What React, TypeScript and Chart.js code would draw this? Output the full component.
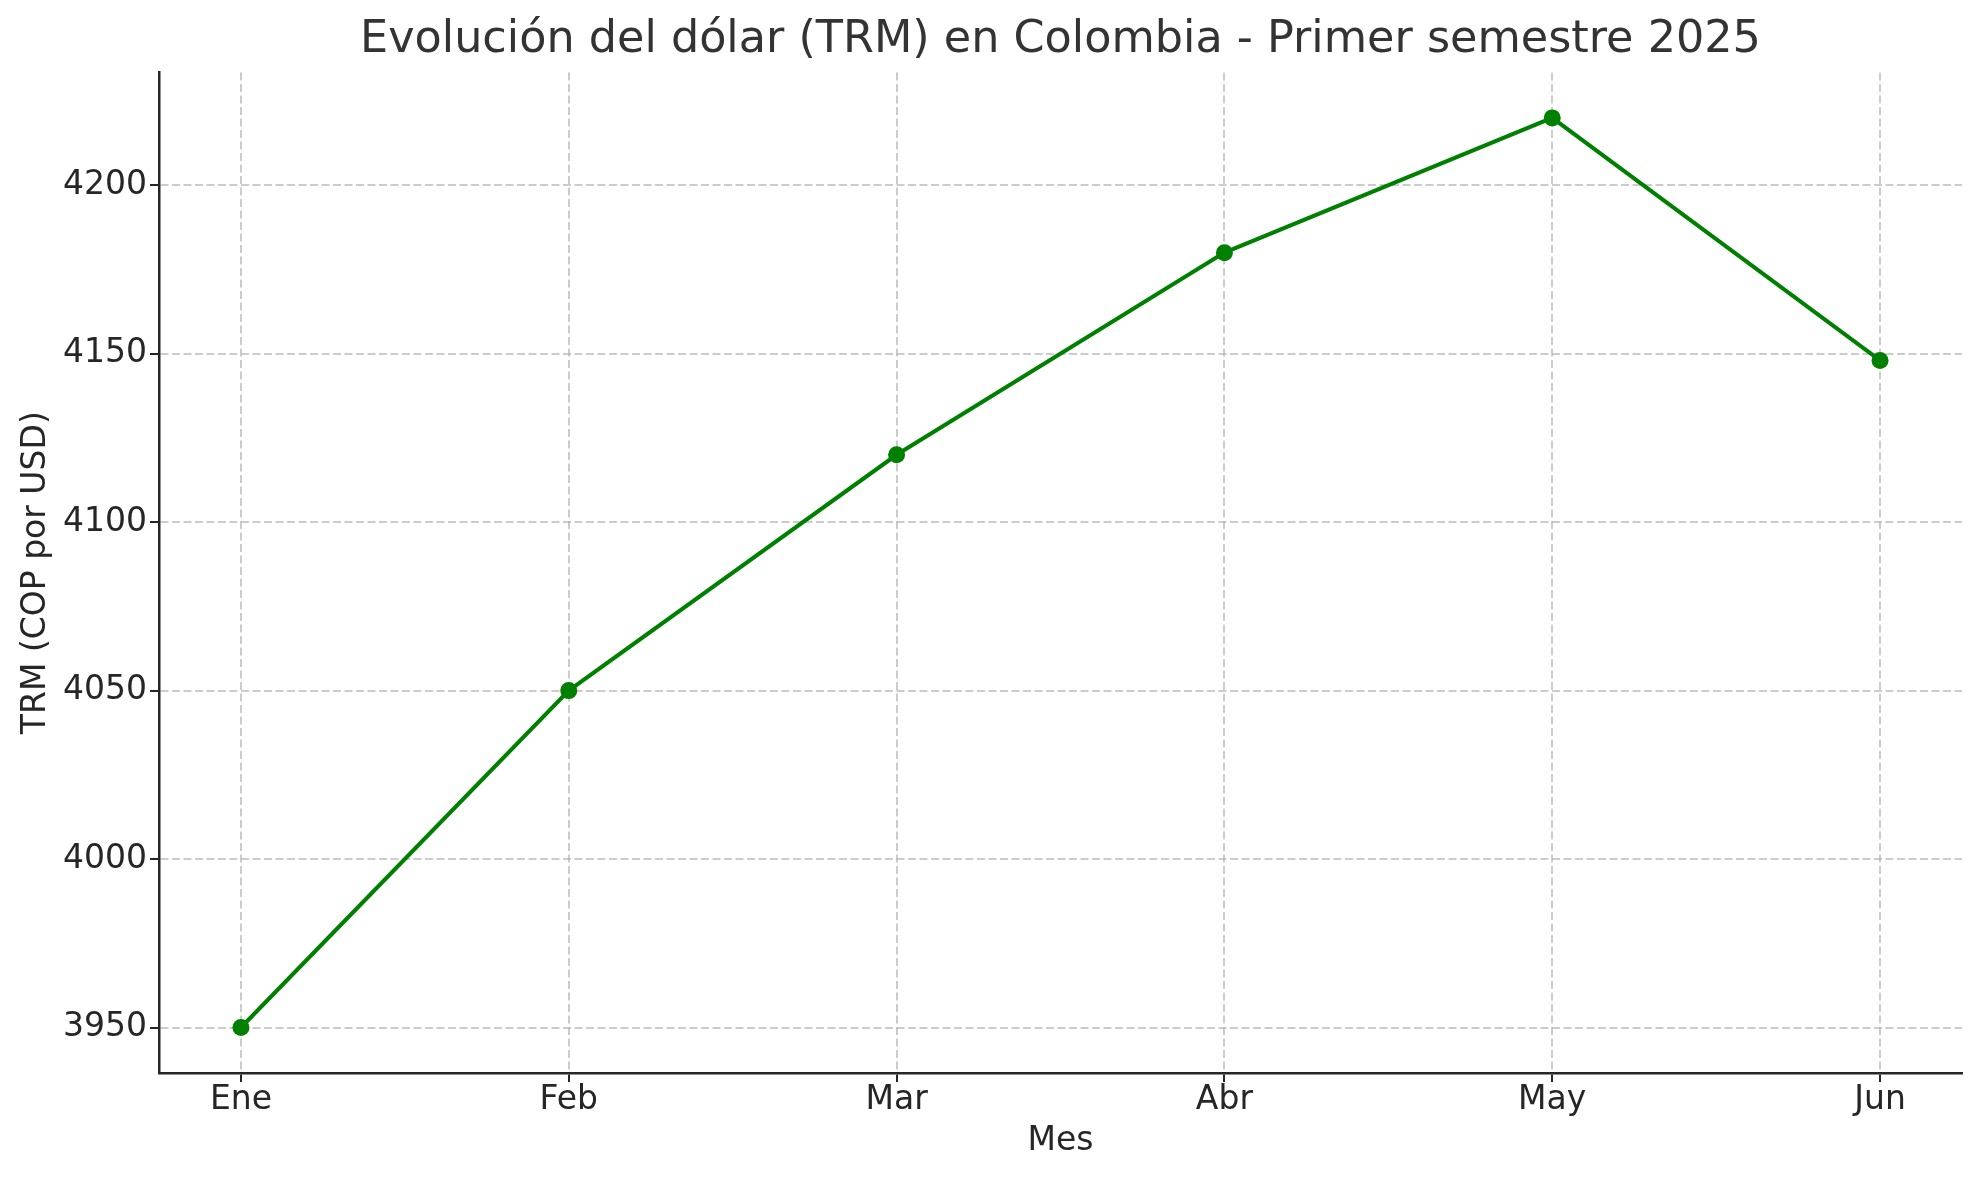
import React, { useEffect, useRef } from "react";
import { Chart, registerables } from "chart.js";

Chart.register(...registerables);

const months = ["Ene", "Feb", "Mar", "Abr", "May", "Jun"];
const trm = [3950, 4050, 4120, 4180, 4220, 4148];
const yTicks = [3950, 4000, 4050, 4100, 4150, 4200];
const titleText = "Evolución del dólar (TRM) en Colombia - Primer semestre 2025";
const xLabel = "Mes";
const yLabel = "TRM (COP por USD)";

const FONT = "'DejaVu Sans', 'Liberation Sans', sans-serif";
const AXIS = "#262626";
const GRID = "rgba(176,176,176,0.65)";

export default function App() {
  const ref = useRef<HTMLCanvasElement | null>(null);

  useEffect(() => {
    document.body.style.margin = "0";
    const canvas = ref.current;
    if (!canvas) return;
    const dMin = Math.min(...trm);
    const dMax = Math.max(...trm);
    const pad = (dMax - dMin) * 0.05;
    const xPad = (months.length - 1) * 0.05;

    const chart = new Chart(canvas, {
      type: "line",
      data: {
        datasets: [
          {
            data: trm.map((v, i) => ({ x: i, y: v })),
            borderColor: "#008000",
            backgroundColor: "#008000",
            borderWidth: 4,
            pointRadius: 8.5,
            pointBorderWidth: 0,
            pointBackgroundColor: "#008000",
            tension: 0,
            fill: false,
          },
        ],
      },
      options: {
        animation: false,
        responsive: false,
        devicePixelRatio: 1,
        layout: { padding: { left: 0, right: 18, top: 0, bottom: 0 } },
        plugins: {
          legend: { display: false },
          tooltip: { enabled: false },
          title: {
            display: true,
            text: titleText,
            fullSize: false,
            color: "#333333",
            font: { family: FONT, size: 44.5, weight: "normal" },
            padding: { top: 14, bottom: 5 },
          },
        },
        scales: {
          x: {
            type: "linear",
            min: -xPad,
            max: months.length - 1 + xPad,
            afterBuildTicks: (s: any) => {
              s.ticks = months.map((_, i) => ({ value: i }));
            },
            afterFit: (s: any) => {
              s.height = 107;
            },
            ticks: {
              callback: (v: any) => months[v as number] ?? "",
              color: AXIS,
              font: { family: FONT, size: 33 },
              padding: -1,
              maxRotation: 0,
              autoSkip: false,
            },
            grid: {
              color: GRID,
              lineWidth: 2,
              tickLength: 9,
              tickColor: AXIS,
              tickWidth: 2,
            },
            border: { display: true, color: AXIS, width: 2.5, dash: [8, 3.5] },
            title: {
              display: true,
              text: xLabel,
              color: AXIS,
              font: { family: FONT, size: 33 },
              padding: { top: 0, bottom: 19 },
            },
          },
          y: {
            type: "linear",
            min: dMin - pad,
            max: dMax + pad,
            afterBuildTicks: (s: any) => {
              s.ticks = yTicks.map((v) => ({ value: v }));
            },
            afterFit: (s: any) => {
              s.width = 159;
            },
            ticks: {
              callback: (v: any) => String(v),
              color: AXIS,
              font: { family: FONT, size: 33 },
              padding: 3,
              autoSkip: false,
            },
            grid: {
              color: GRID,
              lineWidth: 2,
              tickLength: 9,
              tickColor: AXIS,
              tickWidth: 2,
            },
            border: { display: true, color: AXIS, width: 2.5, dash: [8, 3.5] },
            title: {
              display: true,
              text: yLabel,
              color: AXIS,
              font: { family: FONT, size: 33 },
              padding: { top: 17, bottom: 0 },
            },
          },
        },
      },
    });
    return () => chart.destroy();
  }, []);

  return (
    <div style={{ width: 1980, height: 1180, background: "#ffffff" }}>
      <canvas ref={ref} width={1980} height={1180} style={{ width: 1980, height: 1180, display: "block" }} />
    </div>
  );
}
